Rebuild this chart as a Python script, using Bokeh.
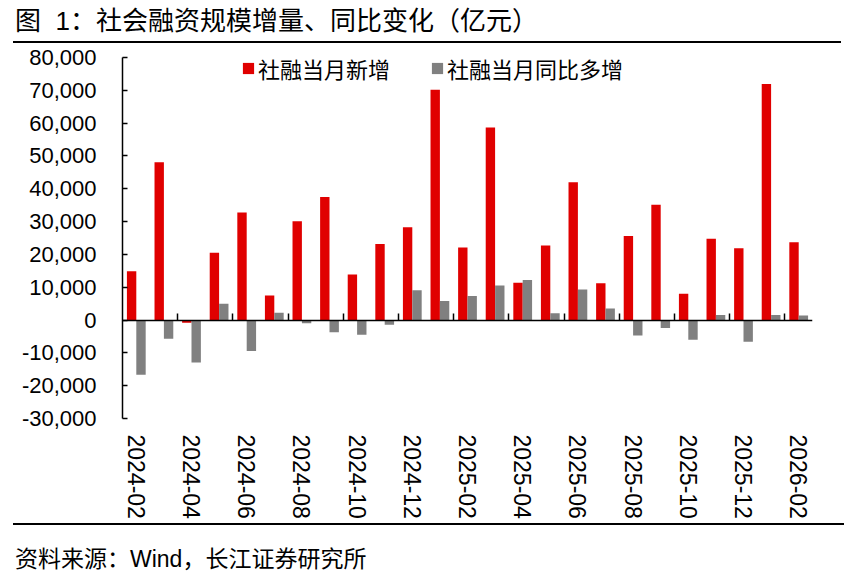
import numpy as np
from bokeh.plotting import figure
from bokeh.models import (Range1d, LinearAxis, FixedTicker, SingleIntervalTicker,
                          NumeralTickFormatter, Legend, LegendItem, Div, ColumnDataSource)
from bokeh.transform import dodge
from bokeh.layouts import column
from bokeh.embed import file_html
from bokeh.resources import INLINE

# ---- data ----
months = ["2024-02", "2024-03", "2024-04", "2024-05", "2024-06", "2024-07", "2024-08",
          "2024-09", "2024-10", "2024-11", "2024-12", "2025-01", "2025-02", "2025-03",
          "2025-04", "2025-05", "2025-06", "2025-07", "2025-08", "2025-09", "2025-10",
          "2025-11", "2025-12", "2026-01", "2026-02"]
new_financing = [14850, 48100, -800, 20500, 32800, 7500, 30100, 37500, 13900, 23200,
                 28300, 70200, 22100, 58700, 11400, 22700, 42000, 11200, 25600, 35100,
                 8000, 24800, 21900, 71900, 23700]
yoy_change = [-16700, -5700, -12900, 5000, -9400, 2200, -1000, -3700, -4500, -1400,
              9100, 5800, 7300, 10500, 12200, 2100, 9300, 3500, -4700, -2400,
              -6000, 1500, -6600, 1500, 1400]
series_names = ["社融当月新增", "社融当月同比多增"]
title_text = "图&nbsp;&nbsp;1：社会融资规模增量、同比变化（亿元）"
source_text = "资料来源：Wind，长江证券研究所"

RED = "#E00000"
GRAY = "#808080"
LATIN = "Liberation Sans"
CJK = "Noto Sans CJK SC"

n = len(months)
idx = list(range(n))
src = ColumnDataSource(dict(idx=idx, month=months, new=new_financing, yoy=yoy_change))

p = figure(width=845, height=477,
           x_range=Range1d(-0.5, n - 0.5),
           y_range=Range1d(-30000, 80000),
           output_backend="svg", toolbar_location=None,
           min_border_left=122, min_border_right=33,
           min_border_top=13, min_border_bottom=102,
           margin=(0, 0, 0, 0))
p.outline_line_color = None
p.xgrid.visible = False
p.ygrid.visible = False
p.background_fill_color = "white"
p.border_fill_color = "white"

r1 = p.vbar(x=dodge("idx", -0.17, range=p.x_range), top="new", width=0.34,
            source=src, fill_color=RED, line_color=None)
r2 = p.vbar(x=dodge("idx", 0.17, range=p.x_range), top="yoy", width=0.34,
            source=src, fill_color=GRAY, line_color=None)

# y axis
ya = p.yaxis[0]
ya.ticker = SingleIntervalTicker(interval=10000, num_minor_ticks=0)
ya.formatter = NumeralTickFormatter(format="0,0")
ya.major_label_text_font = LATIN
ya.major_label_text_font_size = "22px"
ya.major_label_text_color = "black"
ya.major_tick_in = 5
ya.major_tick_out = 0
ya.minor_tick_line_color = None
ya.axis_line_width = 1.5
ya.major_tick_line_width = 1.5
ya.axis_line_color = "black"
ya.major_label_standoff = 26

# bottom axis (labels only, every other month)
xa = p.xaxis[0]
xa.ticker = FixedTicker(ticks=idx[::2])
xa.major_label_overrides = {i: months[i] for i in idx[::2]}
xa.axis_line_color = None
xa.major_tick_line_color = None
xa.minor_tick_line_color = None
xa.major_label_orientation = "vertical"
xa.major_label_text_font = LATIN
xa.major_label_text_font_size = "23px"
xa.major_label_text_color = "black"
xa.major_label_standoff = 10

# zero line axis with ticks between every two months
zero_axis = LinearAxis(fixed_location=0,
                       ticker=FixedTicker(ticks=[i + 0.5 for i in idx[1:-1:2]]),
                       major_tick_in=7, major_tick_out=0,
                       minor_tick_line_color=None,
                       major_label_text_color=None,
                       major_label_text_font_size="1px",
                       axis_line_width=1.5, major_tick_line_width=1.5,
                       axis_line_color="black", major_tick_line_color="black")
p.add_layout(zero_axis, "below")

legend = Legend(items=[LegendItem(label=series_names[0], renderers=[r1]),
                       LegendItem(label=series_names[1], renderers=[r2])],
                orientation="horizontal", location=(119, 334),
                padding=0, margin=0, spacing=40,
                glyph_width=14, glyph_height=14, label_standoff=3,
                label_text_font=CJK, label_text_font_size="22px",
                label_text_line_height=1.0, label_height=22,
                label_text_color="black",
                border_line_color=None, background_fill_alpha=0)
p.add_layout(legend)

title = Div(text=(
    '<div style="margin-left:13px;width:828px;box-sizing:border-box;padding-left:2px;'
    'font-family:\'Liberation Sans\',\'Noto Sans CJK SC\';font-size:26px;color:black;'
    'line-height:30px;padding-top:6px;padding-bottom:5px;border-bottom:2.5px solid black;'
    'white-space:nowrap;">' + title_text + '</div>'),
    width=845, height=44, margin=(0, 0, 0, 0))

source = Div(text=(
    '<div style="margin-left:13px;width:831px;box-sizing:border-box;padding-left:2px;'
    'margin-top:2px;border-top:2.5px solid black;padding-top:22px;'
    'font-family:\'Liberation Sans\',\'Noto Sans CJK SC\';font-size:23px;color:black;'
    'line-height:24px;white-space:nowrap;">' + source_text + '</div>'),
    width=845, height=52, margin=(0, 0, 0, 0))

layout = column(title, p, source, spacing=0, margin=(0, 0, 0, 0))

open("out.html", "w").write(file_html(layout, INLINE))
